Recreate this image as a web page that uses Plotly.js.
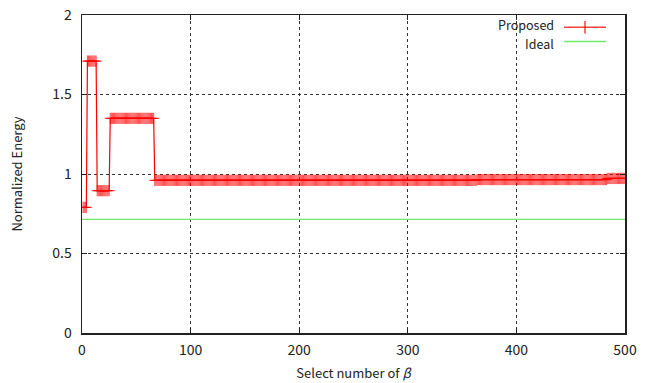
<!DOCTYPE html>
<html>
<head>
<meta charset="utf-8">
<script src="https://cdn.plot.ly/plotly-3.0.1.min.js"></script>
<style>html,body{margin:0;padding:0;background:#fff;}#chart{width:651px;height:383px;}</style>
</head>
<body>
<div id="chart"></div>
<script>
// Proposed: piecewise-constant runs (first beta, last beta, value)
const runStart = [1, 5, 14, 26, 67, 364, 484];
const runEnd   = [4, 13, 25, 66, 363, 483, 500];
const runValue = [0.79, 1.71, 0.895, 1.35, 0.96, 0.965, 0.972];
// Ideal: constant level
const idealX = [0, 500];
const idealY = [0.714, 0.714];
const xTicks = [0, 100, 200, 300, 400, 500];
const yTicks = [0, 0.5, 1, 1.5, 2];
const yTickText = ['0', '0.5', '1', '1.5', '2'];

const propX = [], propY = [];
for (let r = 0; r < runStart.length; r++) {
  for (let b = runStart[r]; b <= runEnd[r]; b++) { propX.push(b); propY.push(runValue[r]); }
}

const font = 'Noto Sans CJK JP, Noto Sans, DejaVu Sans, sans-serif';
const traces = [
  {x: idealX, y: idealY, mode: 'lines', name: 'Ideal',
   line: {color: 'rgb(110,235,110)', width: 1.2}},
  {x: propX, y: propY, mode: 'lines+markers', name: 'Proposed',
   line: {color: 'rgb(255,0,0)', width: 1.2},
   marker: {symbol: 'cross-thin-open', size: 8, color: 'rgba(255,0,0,0.7)',
            line: {color: 'rgba(255,0,0,0.7)', width: 1}}}
];

const lx0 = (564-82)/543, lx1 = (606-82)/543, lxm = (585-82)/543;
const py = v => (333.3 - v)/320;
const layout = {
  width: 651, height: 383,
  margin: {l: 82, r: 26, t: 15, b: 50},
  paper_bgcolor: '#fff', plot_bgcolor: '#fff',
  showlegend: false,
  font: {family: font, size: 14, color: '#222'},
  xaxis: {range: [0, 500], tickvals: xTicks, ticktext: xTicks.map(String),
    showline: true, mirror: 'ticks', linecolor: '#222', linewidth: 1.5,
    ticks: 'inside', ticklen: 5, tickcolor: '#222', ticklabelstandoff: 4,
    showgrid: true, gridcolor: '#333', griddash: 'dot', gridwidth: 1,
    zeroline: false, tickfont: {size: 14, family: font},
    title: {text: 'Select number of <i>β</i>', font: {size: 13, family: font}, standoff: 10}},
  yaxis: {range: [0, 2], tickvals: yTicks, ticktext: yTickText,
    showline: true, mirror: 'ticks', linecolor: '#222', linewidth: 1.5,
    ticks: 'inside', ticklen: 5, tickcolor: '#222', ticklabelstandoff: 6,
    showgrid: true, gridcolor: '#333', griddash: 'dot', gridwidth: 1,
    zeroline: false, tickfont: {size: 14, family: font},
    title: {text: 'Normalized Energy', font: {size: 13, family: font}, standoff: 26}},
  shapes: [
    {type: 'line', xref: 'paper', yref: 'paper', x0: lx0, x1: lx1, y0: py(25.7), y1: py(25.7), line: {color: 'rgba(255,0,0,0.75)', width: 1.5}},
    {type: 'line', xref: 'paper', yref: 'paper', x0: lxm, x1: lxm, y0: py(32), y1: py(19.3), line: {color: 'rgba(255,0,0,0.75)', width: 1.5}},
    {type: 'line', xref: 'paper', yref: 'paper', x0: lx0, x1: lx1, y0: py(40), y1: py(40), line: {color: 'rgb(110,235,110)', width: 1.5}}
  ],
  annotations: [
    {xref: 'paper', yref: 'paper', x: (555-82)/543, y: py(23), xanchor: 'right', yanchor: 'middle', borderpad: 0,
     text: 'Proposed', showarrow: false, font: {size: 12.5, family: font, color: '#222'}},
    {xref: 'paper', yref: 'paper', x: (555-82)/543, y: py(42), xanchor: 'right', yanchor: 'middle', borderpad: 0,
     text: 'Ideal', showarrow: false, font: {size: 12.5, family: font, color: '#222'}}
  ]
};
Plotly.newPlot('chart', traces, layout, {displayModeBar: false, staticPlot: true});
</script>
</body>
</html>
